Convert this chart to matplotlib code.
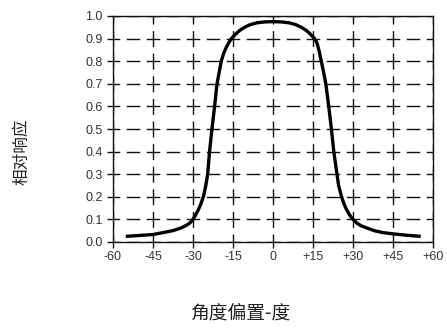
import matplotlib
matplotlib.use("Agg")
import matplotlib.pyplot as plt

plt.rcParams['font.family'] = ['Liberation Sans', 'DejaVu Sans']
plt.rcParams['lines.scale_dashes'] = False

# Data
angle_deg = [-55.2, -50, -45, -41, -37.3, -34.5, -32.3, -31, -30, -29,
             -27.9, -27, -26, -25.2, -24.5, -23.8, -22.9, -21.9, -21.0,
             -20.2, -19.4, -18.5, -17.5, -16.5, -15.6, -14, -12.5, -10.5,
             -8.5, -6, -3, 0, 3, 6, 8.5, 10.5, 12.5, 14, 15.6, 16.5, 17.3,
             18.1, 19.0, 19.8, 20.9, 21.9, 22.8, 23.75, 24.6, 25.6, 26.5,
             27.5, 28.7, 30, 31.5, 33, 35, 38, 41, 45, 50, 55.4]
response = [0.025, 0.029, 0.033, 0.042, 0.051, 0.062, 0.075, 0.086, 0.100,
            0.120, 0.145, 0.170, 0.205, 0.250, 0.300, 0.400, 0.500, 0.600,
            0.700, 0.750, 0.800, 0.835, 0.862, 0.883, 0.900, 0.920, 0.936,
            0.951, 0.962, 0.970, 0.974, 0.975, 0.974, 0.970, 0.962, 0.951,
            0.936, 0.920, 0.900, 0.880, 0.845, 0.800, 0.750, 0.700, 0.600,
            0.500, 0.400, 0.320, 0.250, 0.205, 0.172, 0.145, 0.120, 0.100,
            0.083, 0.072, 0.063, 0.050, 0.042, 0.036, 0.030, 0.025]

x_ticks = [-60, -45, -30, -15, 0, 15, 30, 45, 60]
x_tick_labels = ['-60', '-45', '-30', '-15', '0', '+15', '+30', '+45', '+60']
y_ticks = [0.0, 0.1, 0.2, 0.3, 0.4, 0.5, 0.6, 0.7, 0.8, 0.9, 1.0]
y_tick_labels = ['%.1f' % v for v in y_ticks]

fig = plt.figure(figsize=(4.47, 3.33), dpi=100)
ax = fig.add_axes([113 / 447, 1 - 242 / 333, 320 / 447, 226 / 333])

ax.plot(angle_deg, response, color='black', lw=2.4, solid_capstyle='butt',
        solid_joinstyle='round', zorder=3)

ax.set_xlim(-60, 60)
ax.set_ylim(0, 1.0)
ax.set_xticks(x_ticks)
ax.set_xticklabels(x_tick_labels)
ax.set_yticks(y_ticks)
ax.set_yticklabels(y_tick_labels)

ax.tick_params(axis='both', direction='out', length=4.3, width=1.0,
               color='#111', labelsize=9, labelcolor='#333')
ax.tick_params(axis='x', pad=2.5)
ax.tick_params(axis='y', pad=3)

for s in ax.spines.values():
    s.set_linewidth(1.0)
    s.set_color('#111')

# dashed grid, dashes centred on the crossings (values in points)
px = 0.72
h_on, h_off = 13.5 * px, 6.5 * px
v_on, v_off = 16 * px, 6.6 * px
ax.yaxis.grid(True, color='#111', lw=1.0,
              linestyle=(h_on / 2, (h_on, h_off)))
ax.xaxis.grid(True, color='#111', lw=1.0,
              linestyle=(v_on / 2, (v_on, v_off)))
ax.set_axisbelow(True)

fig.text(241.5 / 447, 1 - 313.5 / 333, '角度偏置-度', ha='center', va='center',
         fontsize=13.5, family=['Noto Sans CJK SC', 'DejaVu Sans'],
         color='#222')
fig.text(22 / 447, 1 - 152 / 333, '相对响应', ha='center', va='center',
         rotation=90, fontsize=12, family=['Noto Sans CJK SC', 'DejaVu Sans'],
         color='#222')

fig.savefig('out.png', dpi=100)
